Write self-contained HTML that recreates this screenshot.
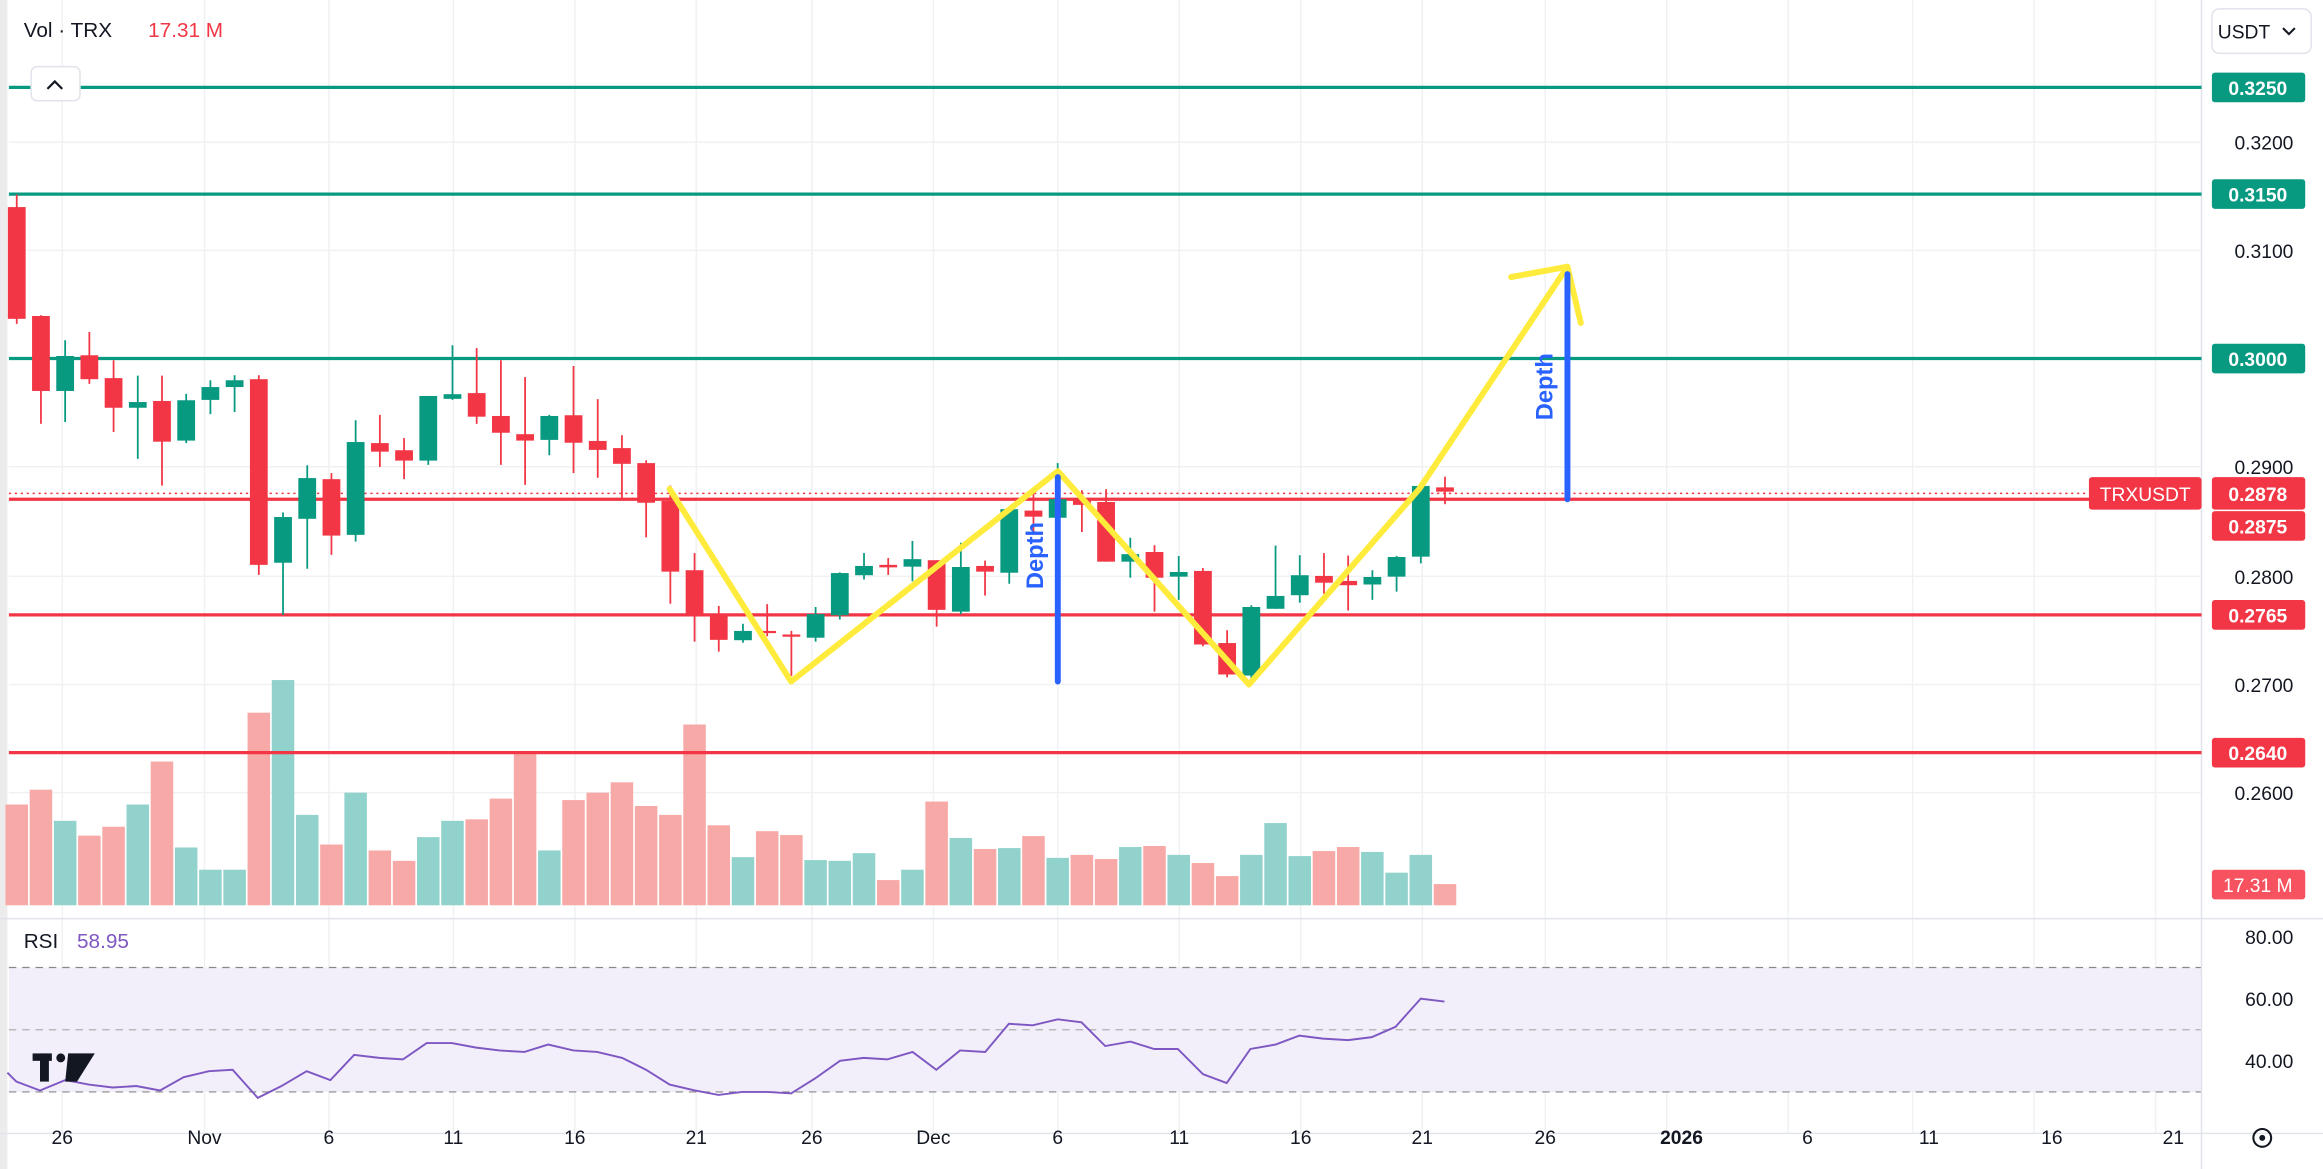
<!DOCTYPE html>
<html><head><meta charset="utf-8"><style>
html,body{margin:0;padding:0;background:#fff;overflow:hidden}
svg{display:block;font-family:"Liberation Sans",sans-serif}
</style></head><body>
<svg id="s" width="2323" height="1169" viewBox="0 0 1568 789" preserveAspectRatio="none" xmlns="http://www.w3.org/2000/svg">
<rect width="1568" height="789" fill="#fff"/>
<rect x="0" y="0" width="5" height="789" fill="#ececec"/>
<g id="grid" stroke="#f0f1f3" stroke-width="1"></g>
<rect x="6" y="653" width="1480" height="84" fill="#f2effa"/>
<line x1="6" y1="653" x2="1486" y2="653" stroke="#888" stroke-dasharray="5,4" stroke-width="0.8"/>
<line x1="6" y1="695" x2="1486" y2="695" stroke="#b0b0b0" stroke-dasharray="5,4" stroke-width="0.8"/>
<line x1="6" y1="737" x2="1486" y2="737" stroke="#888" stroke-dasharray="5,4" stroke-width="0.8"/>
<line x1="0" y1="620" x2="1568" y2="620" stroke="#e0e3eb" stroke-width="1"/>
<line x1="0" y1="765" x2="1568" y2="765" stroke="#e0e3eb" stroke-width="1"/>
<line x1="1486" y1="0" x2="1486" y2="789" stroke="#e0e3eb" stroke-width="1"/>
<g id="vol"></g>
<g stroke-width="2.2">
<line x1="6" y1="59" x2="1486" y2="59" stroke="#089981"/>
<line x1="6" y1="131" x2="1486" y2="131" stroke="#089981"/>
<line x1="6" y1="242" x2="1486" y2="242" stroke="#089981"/>
<line x1="6" y1="337" x2="1486" y2="337" stroke="#f23645"/>
<line x1="6" y1="415" x2="1486" y2="415" stroke="#f23645"/>
<line x1="6" y1="508" x2="1486" y2="508" stroke="#f23645"/>
</g>
<line x1="6" y1="333" x2="1486" y2="333" stroke="#f23645" stroke-width="1" stroke-dasharray="1.5,2.5"/>
<g id="candles"></g>
<polyline points="452,330 534,460 714,318 843,462 958,330 1058,180" fill="none" stroke="#ffeb3b" stroke-width="4" stroke-linejoin="round" stroke-linecap="round"/>
<polyline points="1020,187 1058,180 1067,218" fill="none" stroke="#ffeb3b" stroke-width="4" stroke-linejoin="round" stroke-linecap="round"/>
<line x1="714" y1="322" x2="714" y2="460" stroke="#2962ff" stroke-width="4" stroke-linecap="round"/>
<line x1="1058" y1="185" x2="1058" y2="337" stroke="#2962ff" stroke-width="4" stroke-linecap="round"/>
<text transform="translate(704,375) rotate(-90)" text-anchor="middle" font-size="16" fill="#2962ff" font-weight="bold">Depth</text>
<text transform="translate(1048,261) rotate(-90)" text-anchor="middle" font-size="16" fill="#2962ff" font-weight="bold">Depth</text>
<polyline id="rsi" fill="none" stroke="#7e57c2" stroke-width="1.3"/>
<g font-size="13" fill="#131722" text-anchor="end">
<text x="1548" y="101">0.3200</text>
<text x="1548" y="174">0.3100</text>
<text x="1548" y="320">0.2900</text>
<text x="1548" y="394">0.2800</text>
<text x="1548" y="467">0.2700</text>
<text x="1548" y="540">0.2600</text>
<text x="1548" y="637">80.00</text>
<text x="1548" y="679">60.00</text>
<text x="1548" y="721">40.00</text>
</g>
<g font-size="13" fill="#fff" font-weight="bold" text-anchor="middle">
<rect x="1493" y="49" width="63" height="20" rx="2" fill="#089981"/><text x="1524" y="64">0.3250</text>
<rect x="1493" y="121" width="63" height="20" rx="2" fill="#089981"/><text x="1524" y="136">0.3150</text>
<rect x="1493" y="232" width="63" height="20" rx="2" fill="#089981"/><text x="1524" y="247">0.3000</text>
<rect x="1410" y="322" width="76" height="22" rx="2" fill="#f23645"/><text x="1448" y="338" font-weight="normal">TRXUSDT</text>
<rect x="1493" y="322" width="63" height="22" rx="2" fill="#f23645"/><text x="1524" y="338">0.2878</text>
<rect x="1493" y="345" width="63" height="20" rx="2" fill="#f23645"/><text x="1524" y="360">0.2875</text>
<rect x="1493" y="405" width="63" height="20" rx="2" fill="#f23645"/><text x="1524" y="420">0.2765</text>
<rect x="1493" y="498" width="63" height="20" rx="2" fill="#f23645"/><text x="1524" y="513">0.2640</text>
<rect x="1493" y="587" width="63" height="20" rx="2" fill="#f7525f"/><text x="1524" y="602" font-weight="normal">17.31 M</text>
</g>
<g font-size="13" fill="#131722" text-anchor="middle">
<text x="42" y="772">26</text><text x="138" y="772">Nov</text><text x="222" y="772">6</text><text x="306" y="772">11</text><text x="388" y="772">16</text><text x="470" y="772">21</text><text x="548" y="772">26</text><text x="630" y="772">Dec</text><text x="714" y="772">6</text><text x="796" y="772">11</text><text x="878" y="772">16</text><text x="960" y="772">21</text><text x="1043" y="772">26</text><text x="1135" y="772" font-weight="bold">2026</text><text x="1220" y="772">6</text><text x="1302" y="772">11</text><text x="1385" y="772">16</text><text x="1467" y="772">21</text>
</g>
<text x="16" y="25" font-size="14" fill="#131722">Vol · TRX</text>
<text x="100" y="25" font-size="14" fill="#f23645">17.31 M</text>
<rect x="21" y="45" width="33" height="23" rx="4" fill="#fff" stroke="#e0e3eb"/>
<polyline points="32,60 37,55 42,60" fill="none" stroke="#131722" stroke-width="1.5"/>
<text x="16" y="640" font-size="14" fill="#131722">RSI</text>
<text x="52" y="640" font-size="14" fill="#7e57c2">58.95</text>
<rect x="1493" y="6" width="67" height="30" rx="5" fill="#fff" stroke="#e0e3eb"/>
<text x="1497" y="26" font-size="13" fill="#131722">USDT</text>
<polyline points="1541,19 1545,23 1549,19" fill="none" stroke="#131722" stroke-width="1.4"/>
<g fill="#131722"><rect x="22" y="711" width="13" height="5"/><rect x="27" y="711" width="6" height="19"/><circle cx="41" cy="714" r="3"/><polygon points="46,711 54,711 64,711 52,730 44,730"/></g>
<circle cx="1527" cy="768" r="6" fill="none" stroke="#131722" stroke-width="1.4"/><circle cx="1527" cy="768" r="2" fill="#131722"/>
</svg>
<script>
var NS="http://www.w3.org/2000/svg";
function el(p,t,a){var e=document.createElementNS(NS,t);for(var k in a)e.setAttribute(k,a[k]);p.appendChild(e);return e;}
var grid=document.getElementById('grid');
[42,138,222,306,388,470,548,630,714,796,878,960,1043,1125,1207,1291,1373,1455].forEach(function(x){el(grid,'line',{x1:x,y1:0,x2:x,y2:765});});
[96,169,315,389,462,535].forEach(function(y){el(grid,'line',{x1:6,y1:y,x2:1486,y2:y});});
var C=[
[165,478,130,492,0],[470,680,468,772,0],[582,680,538,767,1],[580,647,515,660,0],[644,727,594,795,0],
[711,727,637,870,1],[708,822,637,945,0],[706,819,688,826,1],[669,705,650,745,1],[650,669,636,739,1],
[647,1167,636,1195,0],[1033,1161,1020,1307,1],[924,1038,888,1178,1],[927,1085,910,1139,0],[823,1083,762,1102,1],
[826,850,747,893,0],[846,875,812,927,0],[694,875,694,887,1],[689,702,552,705,1],[686,752,560,772,0],
[750,797,594,887,0],[801,819,641,943,0],[750,817,747,860,1],[748,825,610,910,0],[820,845,703,923,0],
[840,884,804,987,0],[882,993,874,1090,0],[988,1186,945,1276,0],[1182,1304,1134,1382,0],[1304,1377,1282,1410,0],
[1352,1378,1332,1385,1],[1352,1357,1277,1367,0],[1362,1367,1352,1478,0],[1305,1371,1285,1382,1],[1190,1308,1188,1320,1],
[1170,1196,1134,1208,1],[1167,1174,1148,1195,0],[1151,1172,1100,1213,1],[1154,1293,1154,1340,0],[1173,1298,1105,1305,1],
[1170,1186,1155,1253,0],[1011,1189,1011,1220,1],[1015,1032,958,1077,0],[983,1035,882,1035,1],[986,999,958,1075,0],
[991,1158,955,1158,0],[1137,1158,1091,1203,1],[1131,1203,1112,1298,0],[1187,1200,1142,1265,1],[1184,1390,1176,1395,0],
[1386,1474,1350,1482,0],[1285,1477,1280,1488,1],[1254,1290,1113,1290,1],[1196,1252,1140,1273,1],[1198,1217,1134,1248,0],
[1212,1224,1141,1295,0],[1201,1222,1182,1265,1],[1145,1200,1142,1242,1],[946,1144,938,1163,1],[950,962,920,997,0]];
var V=[543,533,554,564,558,543,514,572,587,587,481,459,550,570,535,574,581,565,554,553,539,509,574,540,535,528,544,550,489,
557,578.5,561,563.6,580.5,581,575.8,594,587,541,565.6,573,572.4,564.3,579,577,579.8,571.7,571,577,582.5,591.3,577,555.5,577.8,574.4,571.7,575,589,577,596.7];
var cg=document.getElementById('candles'),vg=document.getElementById('vol');
function Y(z){return 100+z*0.241;}
C.forEach(function(c,i){
 var x=11.3+i*16.34,col=c[4]?'#089981':'#f23645';
 el(cg,'line',{x1:x,y1:Y(c[2]),x2:x,y2:Y(c[3]),stroke:col,'stroke-width':1.2});
 var t=Y(c[0]),b=Y(c[1]);if(b-t<1.5)b=t+1.5;
 el(cg,'rect',{x:x-6,y:t,width:12,height:b-t,fill:col});
 el(vg,'rect',{x:x-7.6,y:V[i],width:15.2,height:611-V[i],fill:c[4]?'#92d2cc':'#f7a9a7'});
});
var R=[[5,724],[11,730],[27,736],[44,729],[60,732],[76,734],[92,733],[108,736],[124,727],[141,723],[157,722],[174,741],[190,733],[207,723],[223,729],[239,712],[256,714],[272,715],[288,704],[305,704],[321,707],[337,709],[354,710],[370,705],[387,709],[403,710],[420,714],[436,722],[452,732],[469,736],[485,739],[501,737],[518,737],[534,738],[550,728],[567,716],[583,714],[599,715],[616,710],[632,722],[648,709],[665,710],[681,691],[697,692],[714,688],[730,690],[746,706],[763,703],[779,708],[795,708],[812,725],[828,731],[844,708],[861,705],[877,699],[893,701],[910,702],[926,700],[942,693],[959,674],[975,676]];
document.getElementById('rsi').setAttribute('points',R.map(function(p){return p.join(',');}).join(' '));
</script>
</body></html>
